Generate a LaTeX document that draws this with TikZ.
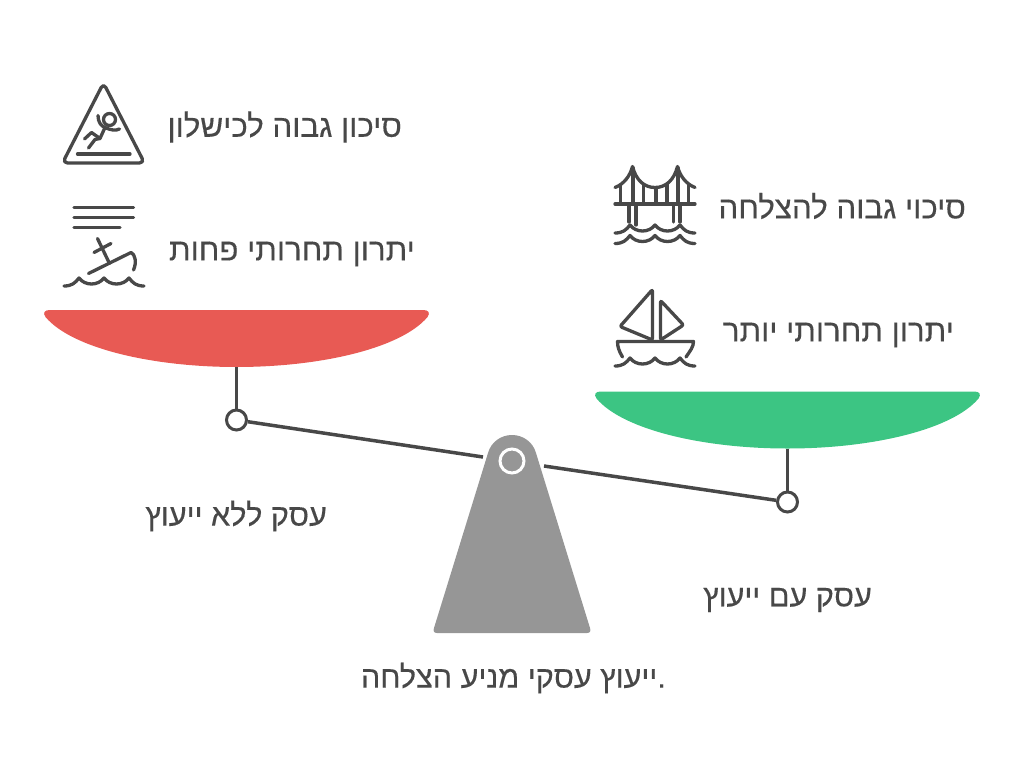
\documentclass[tikz,border=0pt]{standalone}
\usepackage{fontspec}
\setmainfont[Script=Hebrew,FakeBold=0.35]{Liberation Sans}
\TeXXeTstate=1
\definecolor{inkgray}{HTML}{484848}
\definecolor{pivotgray}{HTML}{969696}
\definecolor{panred}{HTML}{E85A54}
\definecolor{pangreen}{HTML}{3CC583}
\tikzset{
    icon/.style={draw=inkgray,line width=3.3pt,line cap=round,line join=round},
    beam/.style={draw=inkgray,line width=3.5pt},
    label/.style={text=inkgray,inner sep=0pt,font=\fontsize{31.3}{36}\selectfont},
    shortlabel/.style={label,font=\fontsize{30.6}{36}\selectfont},
    ring/.style={circle,draw=inkgray,fill=white,line width=3pt,minimum size=20pt,inner sep=0pt},
    pics/wave/.style={code={
        \draw[icon] (-40,0) .. controls (-32,0) and (-29,-3) .. (-25,-8)
            .. controls (-19,0) and (-6,0) .. (0,-8)
            .. controls (6,0) and (19,0) .. (25,-8)
            .. controls (29,-3) and (32,0) .. (40,0);
    }},
    pics/pan/.style={code={
        \fill[#1] (-187,0) -- (187,0) .. controls (192,0) and (194,3) .. (191,7)
            .. controls (165,38) and (85,57) .. (0,57)
            .. controls (-85,57) and (-165,38) .. (-191,7)
            .. controls (-194,3) and (-192,0) .. (-187,0) -- cycle;
    }},
}
\begin{document}
\begin{tikzpicture}[x=1pt,y=-1pt]
\useasboundingbox (0,0) rectangle (1024,779);
% pans
\pic at (236.5,310) {pan=panred};
\pic at (787.5,391.5) {pan=pangreen};
\coordinate (redbottom) at (236.5,367);
\coordinate (greenbottom) at (787.5,448.5);
% beam
\node[ring] (leftring) at (236.5,420) {};
\node[ring] (rightring) at (787.5,502) {};
\coordinate (leftgap) at (483,457);
\coordinate (rightgap) at (544,466);
\draw[beam] (redbottom) -- (leftring);
\draw[beam] (greenbottom) -- (rightring);
\draw[beam] (leftring) -- (leftgap);
\draw[beam] (rightgap) -- (rightring);
% pivot
\fill[pivotgray] (437,633) .. controls (434,633) and (433,631) .. (434,628) -- (488,453)
    .. controls (491,442) and (501,435) .. (512,435) .. controls (523,435) and (533,442) .. (536,453)
    -- (590,628) .. controls (591,631) and (590,633) .. (587,633) -- cycle;
\node[circle,draw=white,line width=3pt,minimum size=24pt,inner sep=0pt] (pivotring) at (512,461) {};
% falling sign
\draw[icon,rounded corners=5pt] (103.5,83) -- (144.5,163) -- (62.5,163) -- cycle;
\draw[icon] (77.5,154) -- (130,154);
\draw[icon] (109.5,119.5) circle[radius=6];
\draw[icon] (98,115.5) .. controls (98,122) and (101,126) .. (105,127.5) .. controls (110,130) and (116,131) .. (119.5,129);
\draw[icon] (105,127.5) -- (100,138.5) -- (91.5,132.5) -- (84.5,139);
\draw[icon] (100,138.5) -- (95,139.5) -- (88.5,148);
% sinking ship
\draw[icon] (74,207.5) -- (133.5,207.5);
\draw[icon] (74,217.5) -- (133.5,217.5);
\draw[icon] (74,227.5) -- (120,227.5);
\draw[icon] (97.5,238.5) -- (109.5,263.5);
\draw[icon] (94,252.5) -- (111,243.5);
\draw[icon] (88.5,273.5) -- (131,252.5) .. controls (135,254) and (137,262) .. (133.5,270);
\pic at (104,286) {wave};
% bridge
\draw[icon] (615,187.5) .. controls (624,184) and (630,176) .. (632.5,166.5) .. controls (636,180) and (644,187.5) .. (655,187.5)
    .. controls (666,187.5) and (674,180) .. (677.5,166.5) .. controls (680,176) and (686,184) .. (695,187.5);
\draw[icon] (615,204) -- (695,204);
\draw[icon,line width=4pt] (632.5,168) -- (632.5,204);
\draw[icon,line width=4pt] (677.5,168) -- (677.5,204);
\foreach \hx/\hy in {620.5/185,643.5/184,656/188,667/184,688.5/185}
    \draw[icon] (\hx,\hy) -- (\hx,204);
\foreach \px/\py in {629/222,636/225,673.5/222,680/222}
    \draw[icon] (\px,204) -- (\px,\py);
\pic at (655,233) {wave};
\pic at (655,243.5) {wave};
% sailboat
\draw[icon,rounded corners=2pt] (652.5,289.5) -- (652.5,340) -- (620,326.5) -- cycle;
\draw[icon,rounded corners=2pt] (660.5,300.5) -- (660.5,340) -- (683.5,325) -- cycle;
\draw[icon] (622.5,357) .. controls (619,351) and (617.5,347) .. (617.5,341.5) -- (693.5,341.5) .. controls (693.5,347) and (690,351) .. (686,357);
\pic at (655,366) {wave};
% labels
\node[label,anchor=east] (highfail) at (402,127) {\beginR סיכון גבוה לכישלון\endR};
\node[label,anchor=east] (lessedge) at (415,254) {\beginR יתרון תחרותי פחות\endR};
\node[label,anchor=east] (highsuccess) at (966,206) {\beginR סיכוי גבוה להצלחה\endR};
\node[label,anchor=east] (moreedge) at (954,335) {\beginR יתרון תחרותי יותר\endR};
\node[shortlabel,anchor=east] (withoutadvice) at (327,516) {\beginR עסק ללא ייעוץ\endR};
\node[shortlabel,anchor=east] (withadvice) at (872,600) {\beginR עסק עם ייעוץ\endR};
\node[shortlabel,anchor=east] (caption) at (666,678) {\beginR .ייעוץ עסקי מניע הצלחה\endR};
\end{tikzpicture}
\end{document}
